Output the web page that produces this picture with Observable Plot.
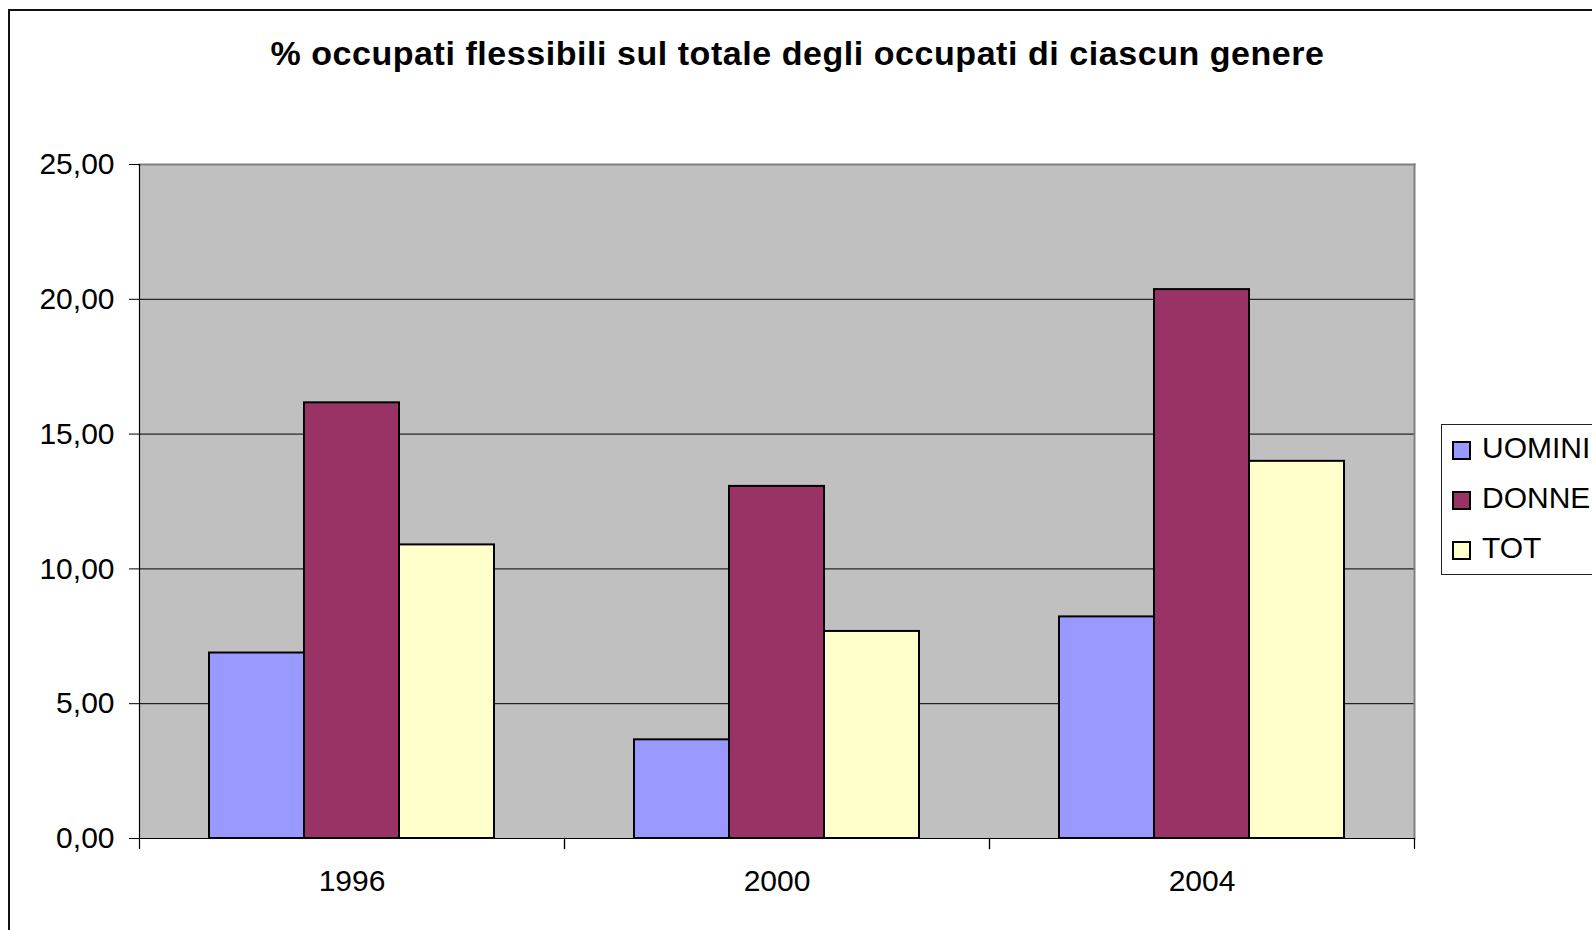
<!DOCTYPE html>
<html>
<head>
<meta charset="utf-8">
<script src="https://cdn.jsdelivr.net/npm/d3@7"></script>
<script src="https://cdn.jsdelivr.net/npm/@observablehq/plot@0.6"></script>
<style>
  html, body { margin: 0; padding: 0; background: #fff; overflow: hidden; }
  #wrap { position: relative; width: 1592px; height: 930px; font-family: "Liberation Sans", Arial, sans-serif; }
  #border { position: absolute; left: 8px; top: 9px; width: 1700px; height: 1000px; border: 2px solid #111; box-sizing: border-box; pointer-events: none; }
  #title { position: absolute; left: 0; top: 34px; width: 1595px; text-align: center; font-weight: bold; font-size: 34px; letter-spacing: 0.55px; color: #000; white-space: nowrap; }
  #chart { position: absolute; left: 0; top: 100px; }
  #legend { position: absolute; left: 1441px; top: 424px; width: 300px; height: 151px; border: 1.5px solid #222; box-sizing: border-box; background: #fff; }
  .item { position: absolute; left: 10px; height: 34px; display: flex; align-items: center; font-size: 30px; color: #000; }
  .sw { width: 15px; height: 15px; border: 2px solid #000; margin-right: 11px; margin-top: 5px; }
</style>
</head>
<body>
<div id="wrap">
  <div id="border"></div>
  <div id="title"></div>
  <div id="chart"></div>
  <div id="legend"></div>
</div>
<script>
const title = "% occupati flessibili sul totale degli occupati di ciascun genere";
const years = ["1996", "2000", "2004"];
const series = ["UOMINI", "DONNE", "TOT"];
const uomini = [6.88, 3.66, 8.22];
const donne = [16.16, 13.06, 20.36];
const tot = [10.89, 7.68, 13.99];
const colors = ["#9999FF", "#993366", "#FFFFCC"];
const yTicks = [0, 5, 10, 15, 20, 25];

const values = {UOMINI: uomini, DONNE: donne, TOT: tot};
const rows = [];
years.forEach((yr, i) => series.forEach(s => rows.push({year: yr, series: s, value: values[s][i]})));

document.getElementById("title").textContent = title;

const W = 1592, H = 830, mTop = 64, mBottom = 92, mLeft = 139, mRight = 178;
const innerH = H - mTop - mBottom;
const fmt = d => d.toFixed(2).replace(".", ",");

const chart = Plot.plot({
  width: W,
  height: H,
  marginTop: mTop,
  marginBottom: mBottom,
  marginLeft: mLeft,
  marginRight: mRight,
  style: {fontFamily: "'Liberation Sans', Arial, sans-serif", background: "transparent", overflow: "visible"},
  fx: {domain: years, padding: 0, label: null},
  x: {domain: series, paddingInner: 0, paddingOuter: 0.73, axis: null},
  y: {domain: [0, 25], label: null, axis: null},
  color: {domain: series, range: colors},
  marks: [
    Plot.frame({facet: "super", fill: "#c0c0c0"}),
    Plot.ruleY(yTicks.filter(t => t > 0 && t < 25), {stroke: "#000", strokeWidth: 1}),
    Plot.frame({facet: "super", anchor: "top", stroke: "#808080", strokeWidth: 2}),
    Plot.frame({facet: "super", anchor: "right", stroke: "#808080", strokeWidth: 2}),
    Plot.barY(rows, {fx: "year", x: "series", y: "value", fill: "series", stroke: "#000", strokeWidth: 2}),
    Plot.frame({facet: "super", anchor: "left", stroke: "#000", strokeWidth: 1.2}),
    Plot.ruleY([0], {stroke: "#000", strokeWidth: 1.2}),
    Plot.frame({anchor: "left", stroke: "#000", strokeWidth: 1.2, insetTop: innerH, insetBottom: -10}),
    Plot.frame({anchor: "right", stroke: "#000", strokeWidth: 1.2, insetTop: innerH, insetBottom: -10}),
    Plot.axisY({ticks: yTicks, tickFormat: fmt, tickSize: 10, tickPadding: 15, fontSize: 30, stroke: "#000", color: "#000", label: null}),
    Plot.axisFx({anchor: "bottom", tickSize: 0, tickPadding: 31, fontSize: 30, color: "#000", label: null})
  ]
});
document.getElementById("chart").appendChild(chart);

const legend = document.getElementById("legend");
const tops = [6, 56, 106];
series.forEach((s, i) => {
  const it = document.createElement("div");
  it.className = "item";
  it.style.top = tops[i] + "px";
  const sw = document.createElement("div");
  sw.className = "sw";
  sw.style.background = colors[i];
  const tx = document.createElement("span");
  tx.textContent = s;
  it.appendChild(sw);
  it.appendChild(tx);
  legend.appendChild(it);
});
</script>
</body>
</html>
